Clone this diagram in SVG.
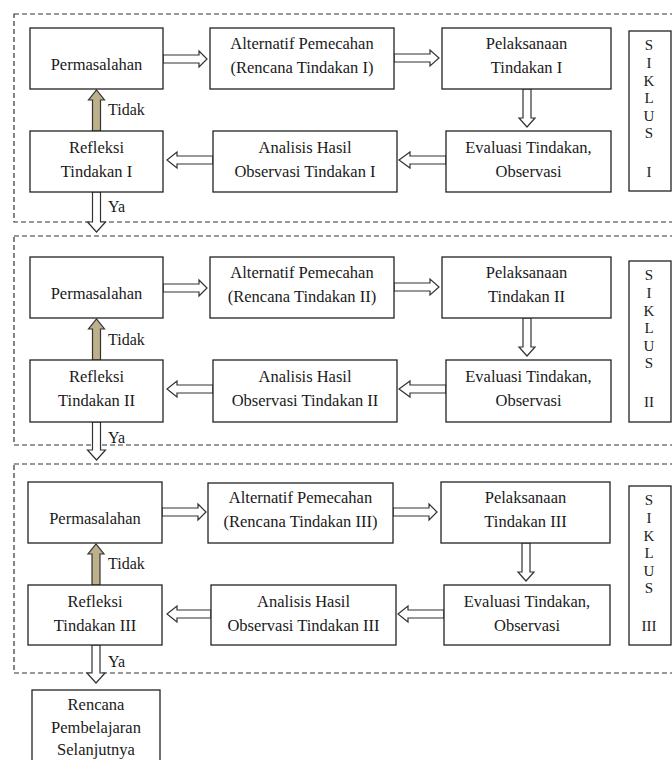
<svg xmlns="http://www.w3.org/2000/svg" width="672" height="760" viewBox="0 0 672 760" font-family="'Liberation Serif', 'DejaVu Serif', 'Times New Roman', serif">
<style>
.bx{fill:#fff;stroke:#222;stroke-width:1.3}
.ds{fill:none;stroke:#333;stroke-width:1.2;stroke-dasharray:5 3}
.ar{fill:#fff;stroke:#333;stroke-width:1.2;stroke-linejoin:miter}
.up{fill:#bdb08a;stroke:#333;stroke-width:1.2}
.t{font-family:'Liberation Serif','DejaVu Serif','Times New Roman',serif;font-size:16.5px;fill:#1a1a1a;text-anchor:middle}
.lb{text-anchor:start;font-size:16px}
.sk{font-size:15px}
</style>
<rect width="672" height="760" fill="#fff"/>
<g id="sections">
<rect class="ds" x="14" y="14" width="670" height="208"/>
<rect class="ds" x="14" y="236" width="670" height="209"/>
<rect class="ds" x="14" y="464" width="670" height="209"/>
</g>
<g id="connectors">
<polygon class="ar" points="163,55 199,55 199,51 207,59 199,67 199,63 163,63"/>
<polygon class="ar" points="394,54 430,54 430,50 439,58 430,66 430,62 394,62"/>
<polygon class="ar" points="523,89 531,89 531,118 535,118 527,127 519,118 523,118"/>
<polygon class="ar" points="446,156 410,156 410,152 399,160 410,168 410,164 446,164"/>
<polygon class="ar" points="213,156 177,156 177,152 167,160 177,168 177,164 213,164"/>
<polygon class="up" points="92.5,131 92.5,100 88.5,100 96.5,90 104.5,100 100.5,100 100.5,131"/>
<polygon class="ar" points="92.5,192 100.5,192 100.5,222 105.5,222 96.5,232 87.5,222 92.5,222"/>
<polygon class="ar" points="163,284 199,284 199,280 207,288 199,296 199,292 163,292"/>
<polygon class="ar" points="394,283 430,283 430,279 439,287 430,295 430,291 394,291"/>
<polygon class="ar" points="523,318 531,318 531,347 535,347 527,356 519,347 523,347"/>
<polygon class="ar" points="446,385 410,385 410,381 399,389 410,397 410,393 446,393"/>
<polygon class="ar" points="213,385 177,385 177,381 167,389 177,397 177,393 213,393"/>
<polygon class="up" points="92.5,360 92.5,329 88.5,329 96.5,319 104.5,329 100.5,329 100.5,360"/>
<polygon class="ar" points="92.5,422 100.5,422 100.5,450 105.5,450 96.5,460 87.5,450 92.5,450"/>
<polygon class="ar" points="162,508 198,508 198,504 206,512 198,520 198,516 162,516"/>
<polygon class="ar" points="393,508 429,508 429,504 437,512 429,520 429,516 393,516"/>
<polygon class="ar" points="522,543 530,543 530,572 534,572 526,581 518,572 522,572"/>
<polygon class="ar" points="444,610 408,610 408,606 398,614 408,622 408,618 444,618"/>
<polygon class="ar" points="211,610 177,610 177,606 167,614 177,622 177,618 211,618"/>
<polygon class="up" points="92,585 92,554 88,554 96,544 104,554 100,554 100,585"/>
<polygon class="ar" points="92,645 100,645 100,673 105,673 96,683 87,673 92,673"/>
</g>
<g id="labels">
<text class="t lb" x="108" y="115">Tidak</text>
<text class="t lb" x="108" y="212">Ya</text>
<text class="t lb" x="108" y="345">Tidak</text>
<text class="t lb" x="108" y="443">Ya</text>
<text class="t lb" x="108" y="569">Tidak</text>
<text class="t lb" x="108" y="667">Ya</text>
</g>
<g id="permasalahan1"><rect class="bx" x="30" y="28" width="133" height="61"/><text class="t" x="96.5" y="70">Permasalahan</text></g>
<g id="alternatif1"><rect class="bx" x="210" y="28" width="184" height="61"/><text class="t" x="302" y="49">Alternatif Pemecahan</text><text class="t" x="302" y="73">(Rencana Tindakan I)</text></g>
<g id="pelaksanaan1"><rect class="bx" x="442" y="28" width="169" height="61"/><text class="t" x="526.5" y="49">Pelaksanaan</text><text class="t" x="526.5" y="73">Tindakan I</text></g>
<g id="refleksi1"><rect class="bx" x="30" y="131" width="133" height="61"/><text class="t" x="96.5" y="153">Refleksi</text><text class="t" x="96.5" y="177">Tindakan I</text></g>
<g id="analisis1"><rect class="bx" x="213" y="131" width="184" height="61"/><text class="t" x="305" y="153">Analisis Hasil</text><text class="t" x="305" y="177">Observasi Tindakan I</text></g>
<g id="evaluasi1"><rect class="bx" x="446" y="131" width="165" height="61"/><text class="t" x="528.5" y="153">Evaluasi Tindakan,</text><text class="t" x="528.5" y="177">Observasi</text></g>
<g id="siklus1"><rect class="bx" x="629" y="31" width="42" height="160"/>
<text class="t sk" x="649" y="50">S</text><text class="t sk" x="649" y="68">I</text><text class="t sk" x="649" y="86">K</text><text class="t sk" x="649" y="103">L</text><text class="t sk" x="649" y="121">U</text><text class="t sk" x="649" y="138">S</text><text class="t sk" x="649" y="177">I</text></g>
<g id="permasalahan2"><rect class="bx" x="30" y="257" width="133" height="61"/><text class="t" x="96.5" y="299">Permasalahan</text></g>
<g id="alternatif2"><rect class="bx" x="210" y="257" width="184" height="61"/><text class="t" x="302" y="278">Alternatif Pemecahan</text><text class="t" x="302" y="302">(Rencana Tindakan II)</text></g>
<g id="pelaksanaan2"><rect class="bx" x="442" y="257" width="169" height="61"/><text class="t" x="526.5" y="278">Pelaksanaan</text><text class="t" x="526.5" y="302">Tindakan II</text></g>
<g id="refleksi2"><rect class="bx" x="30" y="360" width="133" height="62"/><text class="t" x="96.5" y="382">Refleksi</text><text class="t" x="96.5" y="406">Tindakan II</text></g>
<g id="analisis2"><rect class="bx" x="213" y="360" width="184" height="62"/><text class="t" x="305" y="382">Analisis Hasil</text><text class="t" x="305" y="406">Observasi Tindakan II</text></g>
<g id="evaluasi2"><rect class="bx" x="446" y="360" width="165" height="62"/><text class="t" x="528.5" y="382">Evaluasi Tindakan,</text><text class="t" x="528.5" y="406">Observasi</text></g>
<g id="siklus2"><rect class="bx" x="629" y="261" width="42" height="161"/>
<text class="t sk" x="649" y="280">S</text><text class="t sk" x="649" y="298">I</text><text class="t sk" x="649" y="316">K</text><text class="t sk" x="649" y="333">L</text><text class="t sk" x="649" y="351">U</text><text class="t sk" x="649" y="368">S</text><text class="t sk" x="649" y="407">II</text></g>
<g id="permasalahan3"><rect class="bx" x="28" y="482" width="134" height="61"/><text class="t" x="95" y="524">Permasalahan</text></g>
<g id="alternatif3"><rect class="bx" x="208" y="483" width="185" height="60"/><text class="t" x="300.5" y="503">Alternatif Pemecahan</text><text class="t" x="300.5" y="527">(Rencana Tindakan III)</text></g>
<g id="pelaksanaan3"><rect class="bx" x="441" y="482" width="169" height="61"/><text class="t" x="525.5" y="503">Pelaksanaan</text><text class="t" x="525.5" y="527">Tindakan III</text></g>
<g id="refleksi3"><rect class="bx" x="28" y="585" width="134" height="60"/><text class="t" x="95" y="607">Refleksi</text><text class="t" x="95" y="631">Tindakan III</text></g>
<g id="analisis3"><rect class="bx" x="211" y="585" width="185" height="60"/><text class="t" x="303.5" y="607">Analisis Hasil</text><text class="t" x="303.5" y="631">Observasi Tindakan III</text></g>
<g id="evaluasi3"><rect class="bx" x="444" y="585" width="166" height="60"/><text class="t" x="527" y="607">Evaluasi Tindakan,</text><text class="t" x="527" y="631">Observasi</text></g>
<g id="siklus3"><rect class="bx" x="629" y="486" width="42" height="159"/>
<text class="t sk" x="649" y="505">S</text><text class="t sk" x="649" y="523">I</text><text class="t sk" x="649" y="541">K</text><text class="t sk" x="649" y="558">L</text><text class="t sk" x="649" y="576">U</text><text class="t sk" x="649" y="593">S</text><text class="t sk" x="649" y="631">III</text></g>
<g id="rencana"><rect class="bx" x="32" y="690" width="128" height="80"/><text class="t" x="96" y="710">Rencana</text><text class="t" x="96" y="733">Pembelajaran</text><text class="t" x="96" y="755">Selanjutnya</text></g>
</svg>
